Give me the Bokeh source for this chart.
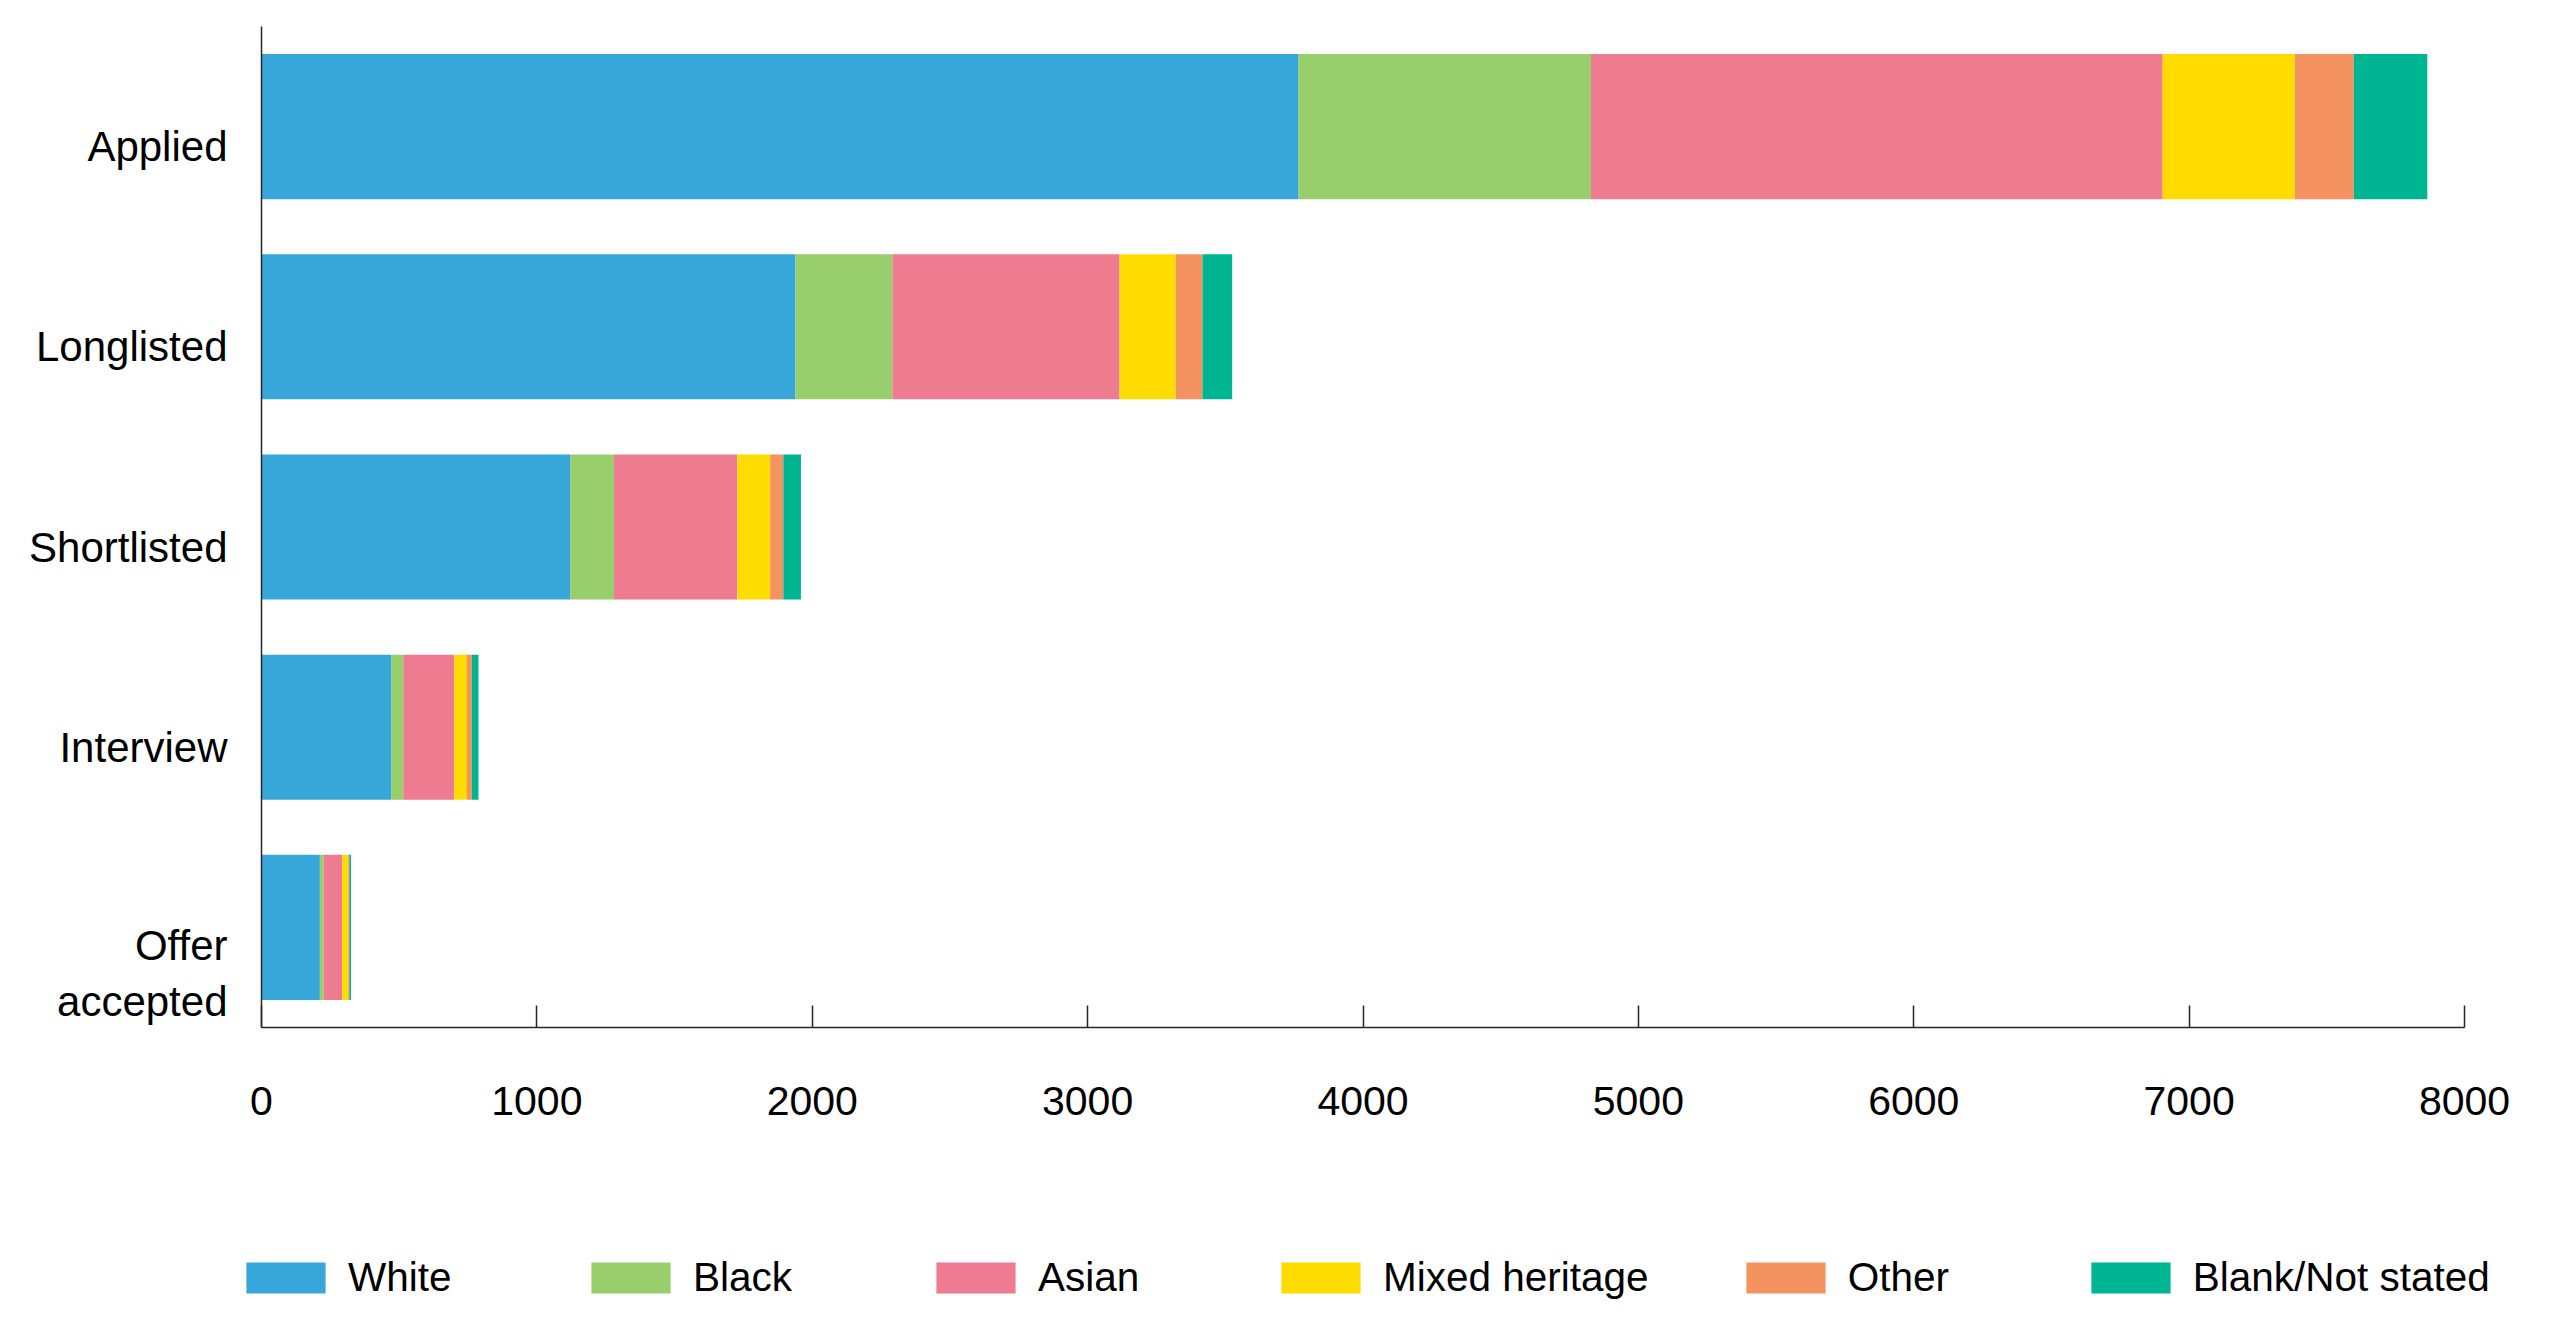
import numpy as np
from bokeh.plotting import figure
from bokeh.layouts import column
from bokeh.models import Range1d, FixedTicker, Legend, LegendItem, ColumnDataSource
from bokeh.embed import file_html
from bokeh.resources import INLINE

# ---- data ----
stages = ["Applied", "Longlisted", "Shortlisted", "Interview", "Offer accepted"]
stage_labels = ["Applied", "Longlisted", "Shortlisted", "Interview", "Offer\naccepted"]
groups = ["White", "Black", "Asian", "Mixed heritage", "Other", "Blank/Not stated"]
white = [3766, 1939, 1122, 472, 212]
black = [1062, 352, 158, 43, 14]
asian = [2076, 825, 448, 185, 67]
mixed = [480, 204, 119, 46, 22]
other = [214, 97, 48, 18, 4]
blank = [267, 108, 64, 24, 6]
x_ticks = [0, 1000, 2000, 3000, 4000, 5000, 6000, 7000, 8000]

colors = ["#37a6d8", "#98ce6b", "#ef7b91", "#ffdc00", "#f59360", "#00b592"]

n = len(stages)
pos = [float(n - 1 - i) for i in range(n)]  # Applied at top
# label placement relative to bar centre (layout)
label_shift = [0.1, 0.1, 0.1, 0.1, 0.23]
tick_pos = [round(pp - s, 3) for pp, s in zip(pos, label_shift)]

src = ColumnDataSource(dict(y=pos, White=white, Black=black, Asian=asian,
                            **{"Mixed heritage": mixed, "Other": other,
                               "Blank/Not stated": blank}))

FONT = "Liberation Sans"
AX = "#262626"

p = figure(frame_width=2203, frame_height=1001,
           x_range=Range1d(0, 8000), y_range=Range1d(-0.5, n - 0.5),
           output_backend="svg", toolbar_location=None,
           min_border_left=261, min_border_right=80, min_border_top=26,
           min_border_bottom=120)
p.outline_line_color = None
p.xgrid.visible = False
p.ygrid.visible = False
p.background_fill_color = "white"
p.border_fill_color = "white"

renderers = p.hbar_stack(groups, y="y", height=0.725, color=colors,
                         line_color=None, source=src)

# x axis
xa = p.xaxis[0]
xa.ticker = FixedTicker(ticks=x_ticks)
xa.axis_line_color = AX
xa.axis_line_width = 1.5
xa.major_tick_line_color = AX
xa.major_tick_line_width = 1.5
xa.major_tick_in = 22
xa.major_tick_out = 0
xa.minor_tick_in = 0
xa.minor_tick_out = 0
xa.major_label_standoff = 59
xa.major_label_text_font = FONT
xa.major_label_text_font_size = "41px"
xa.major_label_text_color = "black"

# y axis
ya = p.yaxis[0]
ya.ticker = FixedTicker(ticks=tick_pos)
ya.major_label_overrides = {t: lab for t, lab in zip(tick_pos, stage_labels)}
ya.axis_line_color = AX
ya.axis_line_width = 1.5
ya.major_tick_in = 0
ya.major_tick_out = 0
ya.minor_tick_in = 0
ya.minor_tick_out = 0
ya.major_label_standoff = 34
ya.major_label_text_font = FONT
ya.major_label_text_font_size = "42px"
ya.major_label_text_color = "black"
ya.major_label_text_align = "right"

# ---- legend strip (separate figure so the legend is not clipped) ----
p2 = figure(frame_width=2544, frame_height=185,
            x_range=Range1d(0, 1), y_range=Range1d(0, 1),
            x_axis_type=None, y_axis_type=None,
            output_backend="svg", toolbar_location=None,
            min_border_left=0, min_border_right=0, min_border_top=0,
            min_border_bottom=0)
p2.outline_line_color = None
p2.xgrid.visible = False
p2.ygrid.visible = False
p2.background_fill_color = "white"
p2.border_fill_color = "white"

# legend-only renderers (no visible mark: NaN coordinates)
nan_src = ColumnDataSource(dict(y=[float("nan")], right=[float("nan")]))
leg_renderers = [p2.hbar(y="y", right="right", height=0.5, fill_color=c,
                         line_color=None, source=nan_src) for c in colors]

items = [LegendItem(label=g, renderers=[r], index=0)
         for g, r in zip(groups, leg_renderers)]
legend = Legend(items=items, orientation="horizontal", location=(236, 31),
                glyph_width=99, glyph_height=39, label_standoff=13,
                spacing=87, label_width=146, label_text_font=FONT,
                label_text_font_size="40.5px", label_text_color="black",
                border_line_color=None, background_fill_alpha=0,
                padding=0, margin=0)
p2.add_layout(legend, "center")

layout = column(p, p2, spacing=0)
open("out.html", "w").write(file_html(layout, INLINE))
